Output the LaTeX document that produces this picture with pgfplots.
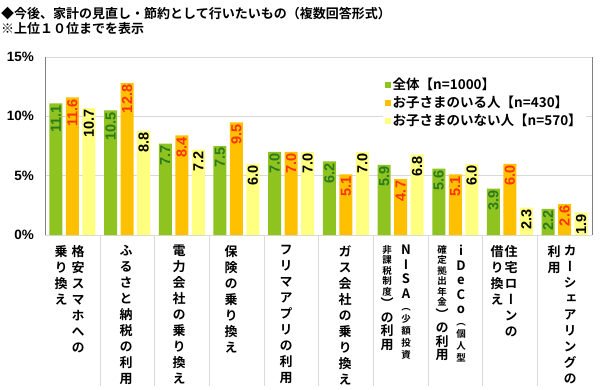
\documentclass[border=0pt]{standalone}
\usepackage{pgfplots}
\usepackage{pgfplotstable}
\pgfplotsset{compat=1.18}
\usepackage{fontspec}
\newfontfamily\jp{Noto Sans CJK JP Bold}
\newfontfamily\jpv[RawFeature=+vert]{Noto Sans CJK JP Bold}
\newfontfamily\lab{Liberation Sans Bold}
\definecolor{cg}{HTML}{8FC31F}
\definecolor{co}{HTML}{FFC000}
\definecolor{cy}{HTML}{FFFF80}
\definecolor{lg}{HTML}{2A7A1E}
\definecolor{lo}{HTML}{FF3300}
\definecolor{gridc}{HTML}{D9D9D9}
\makeatletter
\newcommand\VS[1]{\@tfor\vs@c:=#1\do{\hbox to 14pt{\hss\vs@c\hss}}}
\makeatother
\newcommand\Col[3]{\node[anchor=north,inner sep=0pt] at (#1pt,#2pt) {\vbox{\jpv\fontsize{13}{16}\selectfont\baselineskip=16pt #3}};}
\pgfplotstableread{
x a b c
1 11.1 11.6 10.7
2 10.5 12.8 8.8
3 7.7 8.4 7.2
4 7.5 9.5 6.0
5 7.0 7.0 7.0
6 6.2 5.1 7.0
7 5.9 4.7 6.8
8 5.6 5.1 6.0
9 3.9 6.0 2.3
10 2.2 2.6 1.9
}\data
\begin{document}
\begin{tikzpicture}
\useasboundingbox (0pt,0pt) rectangle (600pt,389pt);
\node[anchor=west,inner sep=0pt] at (1pt,375pt) {\jp\fontsize{13}{13}\selectfont ◆今後、家計の見直し・節約として行いたいもの（複数回答形式）};
\node[anchor=west,inner sep=0pt] at (1pt,360pt) {\jp\fontsize{13}{13}\selectfont ※上位１０位までを表示};
\begin{axis}[
  at={(45pt,154pt)}, anchor=south west,
  scale only axis, width=547pt, height=178pt,
  xmin=0.5, xmax=10.5, ymin=0, ymax=15,
  ybar=3.5pt, bar width=13pt,
  clip=false,
  axis line style={draw=gridc},
  separate axis lines,
  y axis line style={draw=gray},
  xtick=\empty,
  minor xtick={1.5,2.5,3.5,4.5,5.5,6.5,7.5,8.5,9.5},
  minor x grid style={gridc},
  xminorgrids=true,
  ytick={0,5,10,15}, yticklabels={0\%,5\%,10\%,15\%},
  ymajorgrids=true, major grid style={gridc},
  major tick length=0pt, minor tick length=0pt,
  yticklabel style={font=\lab\fontsize{13.5}{13.5}\selectfont, inner xsep=0pt, xshift=-11pt},
  nodes near coords={\pgfmathprintnumber[fixed,fixed zerofill,precision=1,assume math mode=true]{\pgfplotspointmeta}},
  nodes near coords style={font=\lab\fontsize{14.5}{14.5}\selectfont, rotate=90, anchor=east, inner sep=1.5pt},
  legend style={at={(rel axis cs:0.617,0.9)}, anchor=north west, draw=none, fill=white,
    font=\jp\fontsize{13.5}{13.5}\selectfont, row sep=3pt, inner xsep=2pt, inner ysep=2pt,
    nodes={inner xsep=2pt, inner ysep=1pt}},
  legend cell align=left,
  legend image code/.code={\draw[#1,draw=none] (0pt,-3pt) rectangle (6pt,3pt);},
]
\addplot[fill=cg, draw=none, every node near coord/.append style={text=lg}] table[x=x,y=a]{\data};
\addplot[fill=co, draw=none, every node near coord/.append style={text=lo}] table[x=x,y=b]{\data};
\addplot[fill=cy, draw=none, every node near coord/.append style={text=black}] table[x=x,y=c]{\data};
\legend{全体【n=1000】,お子さまのいる人【n=430】,お子さまのいない人【n=570】}
\pgfplotsinvokeforeach{1.5,2.5,3.5,4.5,5.5,6.5,7.5,8.5,9.5}{
  \draw[gridc] (axis cs:#1,0) -- ++(0pt,-151pt);
}
\end{axis}
\Col{61}{144}{\VS{乗り換え}}
\Col{78}{144}{\VS{格安スマホへの}}
\Col{126}{144}{\VS{ふるさと納税の利用}}
\Col{179}{144}{\VS{電力会社の乗り換え}}
\Col{231}{144}{\VS{保険の乗り換え}}
\Col{286}{144}{\VS{フリマアプリの利用}}
\Col{345}{144}{\VS{ガス会社の乗り換え}}
\Col{387}{144}{\fontsize{9.5}{11}\selectfont\baselineskip=10.5pt\VS{非課税制度}\fontsize{13}{13}\selectfont\baselineskip=13.5pt\VS{）の利用}}
\Col{406}{144}{\baselineskip=14.5pt\VS{NISA}\fontsize{9.5}{11}\selectfont\baselineskip=12pt\VS{（少額投資}}
\Col{442}{144}{\fontsize{9.5}{11}\selectfont\baselineskip=10.5pt\VS{確定拠出年金}\fontsize{13}{13}\selectfont\baselineskip=13.5pt\VS{）の利用}}
\Col{461}{144}{\baselineskip=14.5pt\VS{iDeCo}\fontsize{9.5}{11}\selectfont\baselineskip=12pt\VS{（個人型}}
\Col{497}{144}{\VS{借り換え}}
\Col{511}{144}{\VS{住宅ローンの}}
\Col{554}{144}{\VS{利用}}
\Col{570}{144}{\VS{カーシェアリングの}}
\end{tikzpicture}
\end{document}
